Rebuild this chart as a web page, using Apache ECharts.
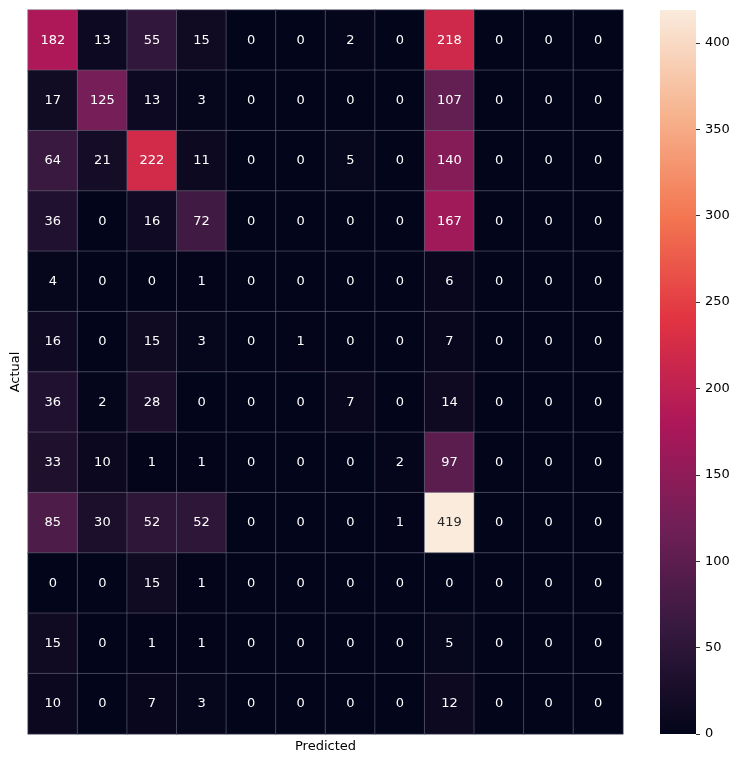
<!DOCTYPE html>
<html>
<head>
<meta charset="utf-8">
<script src="https://cdn.jsdelivr.net/npm/echarts@6/dist/echarts.min.js"></script>
<style>
html,body{margin:0;padding:0;background:#fff;}
#chart{width:741px;height:762px;}
</style>
</head>
<body>
<div id="chart"></div>
<script>
// Confusion matrix rows (Actual), columns (Predicted)
var row0  = [182, 13, 55, 15, 0, 0, 2, 0, 218, 0, 0, 0];
var row1  = [17, 125, 13, 3, 0, 0, 0, 0, 107, 0, 0, 0];
var row2  = [64, 21, 222, 11, 0, 0, 5, 0, 140, 0, 0, 0];
var row3  = [36, 0, 16, 72, 0, 0, 0, 0, 167, 0, 0, 0];
var row4  = [4, 0, 0, 1, 0, 0, 0, 0, 6, 0, 0, 0];
var row5  = [16, 0, 15, 3, 0, 1, 0, 0, 7, 0, 0, 0];
var row6  = [36, 2, 28, 0, 0, 0, 7, 0, 14, 0, 0, 0];
var row7  = [33, 10, 1, 1, 0, 0, 0, 2, 97, 0, 0, 0];
var row8  = [85, 30, 52, 52, 0, 0, 0, 1, 419, 0, 0, 0];
var row9  = [0, 0, 15, 1, 0, 0, 0, 0, 0, 0, 0, 0];
var row10 = [15, 0, 1, 1, 0, 0, 0, 0, 5, 0, 0, 0];
var row11 = [10, 0, 7, 3, 0, 0, 0, 0, 12, 0, 0, 0];
var colCategories = ['0','1','2','3','4','5','6','7','8','9','10','11'];
var rowCategories = ['0','1','2','3','4','5','6','7','8','9','10','11'];
var colorbarMax = 419;
var colorbarInterval = 50;

var rows = [row0,row1,row2,row3,row4,row5,row6,row7,row8,row9,row10,row11];
var rocket = ['#03051a','#35193e','#701f57','#ad1759','#e13342','#f37651','#f6b48f','#faebdd'];

var data = [];
rows.forEach(function(r, yi){
  r.forEach(function(v, xi){
    data.push({
      value: [xi, yi, v],
      label: { color: (v / colorbarMax > 0.8) ? '#262626' : '#ffffff' }
    });
  });
});

// colorbar gradient (bottom = 0, top = max)
var stops = rocket.map(function(c, i){ return { offset: 1 - i / (rocket.length - 1), color: c }; }).reverse();
var cbGradient = new echarts.graphic.LinearGradient(0, 0, 0, 1, stops);

var chart = echarts.init(document.getElementById('chart'), null, {renderer:'canvas'});
var font = 'DejaVu Sans';
chart.setOption({
  animation: false,
  backgroundColor: '#ffffff',
  textStyle: { fontFamily: font },
  grid: [
    { left: 28, right: 118, top: 10, bottom: 28, outerBoundsMode: 'none', containLabel: false },
    { left: 660, width: 36, top: 10, bottom: 28, outerBoundsMode: 'none', containLabel: false,
      show: true, backgroundColor: cbGradient, borderWidth: 0 }
  ],
  xAxis: [
    {
      type: 'category', data: colCategories, gridIndex: 0,
      axisLine: {show:false}, axisTick: {show:false}, axisLabel: {show:false},
      splitLine: {show:false},
      name: 'Predicted', nameLocation: 'middle', nameGap: 6,
      nameTextStyle: { fontFamily: font, fontSize: 13, color: '#000' }
    },
    {
      type: 'value', gridIndex: 1, show: false, min: 0, max: 1
    }
  ],
  yAxis: [
    {
      type: 'category', data: rowCategories, gridIndex: 0, inverse: true,
      axisLine: {show:false}, axisTick: {show:false}, axisLabel: {show:false},
      splitLine: {show:false},
      name: 'Actual', nameLocation: 'middle', nameGap: 6, nameRotate: 90,
      nameTextStyle: { fontFamily: font, fontSize: 13, color: '#000' }
    },
    {
      type: 'value', gridIndex: 1, position: 'right',
      min: 0, max: colorbarMax, interval: colorbarInterval,
      axisLine: {show:false, onZero: false},
      axisTick: {show:true, length: 4, lineStyle:{color:'#333', width:1}},
      axisLabel: {margin: 9, fontFamily: font, fontSize: 13, color: '#000', showMaxLabel: false},
      splitLine: {show:false}
    }
  ],
  visualMap: {
    type: 'continuous',
    show: false,
    min: 0, max: colorbarMax,
    seriesIndex: 0,
    inRange: { color: rocket }
  },
  series: [
    {
      type: 'heatmap',
      xAxisIndex: 0, yAxisIndex: 0,
      data: data,
      label: { show: true, fontFamily: font, fontSize: 13, color: '#fff' },
      itemStyle: { borderColor: 'rgba(110,110,130,0.55)', borderWidth: 1 },
      emphasis: { disabled: true }
    },
    {
      type: 'scatter', xAxisIndex: 1, yAxisIndex: 1, data: [], silent: true
    }
  ]
});
</script>
</body>
</html>
